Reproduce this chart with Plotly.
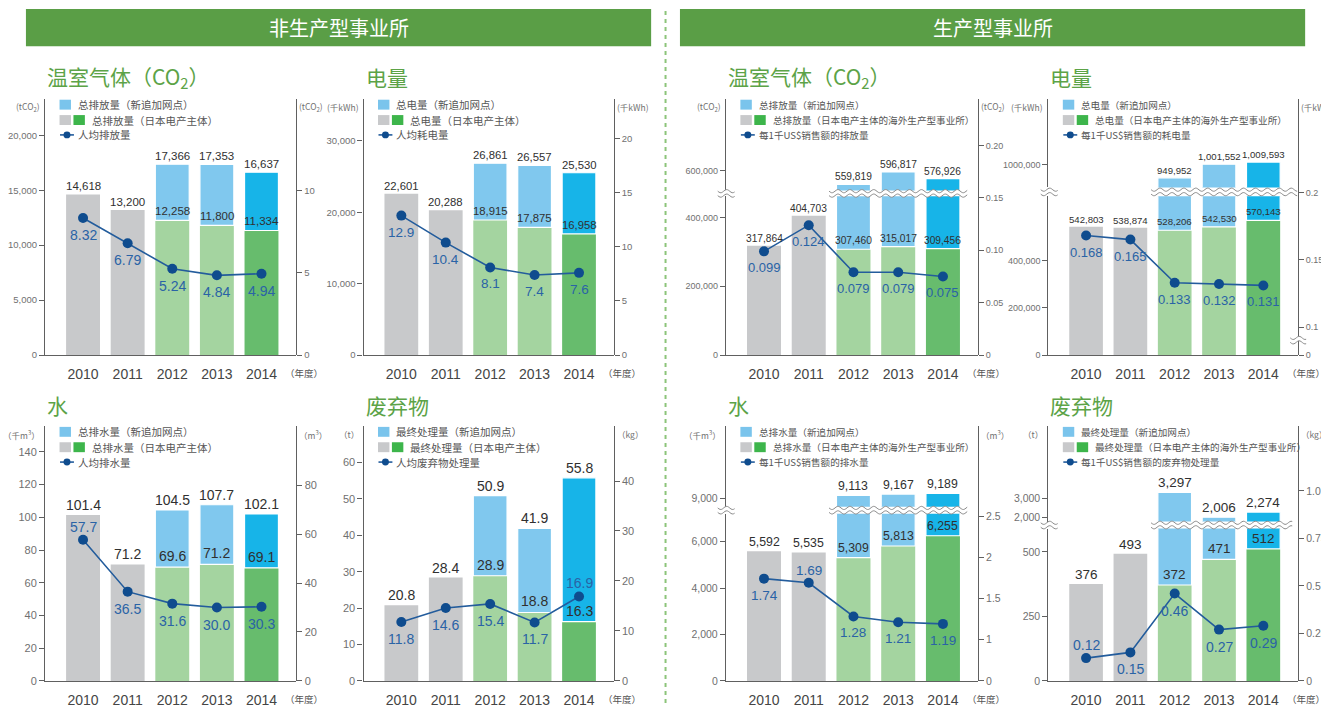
import math
import plotly.graph_objects as go

W, H = 1329, 709
OFF = 8  # default page margin of the html body
FIG_W, FIG_H = W - OFF, H - OFF

# ------------------------------------------------------------------ data
YEARS = ["2010", "2011", "2012", "2013", "2014"]

# 非生产型事业所
np_co2_total = [14618, 13200, 17366, 17353, 16637]
np_co2_base = [14618, 13200, 12258, 11800, 11334]
np_co2_per = [8.32, 6.79, 5.24, 4.84, 4.94]

np_elec_total = [22601, 20288, 26861, 26557, 25530]
np_elec_base = [22601, 20288, 18915, 17875, 16958]
np_elec_per = [12.9, 10.4, 8.1, 7.4, 7.6]

np_water_total = [101.4, 71.2, 104.5, 107.7, 102.1]
np_water_base = [101.4, 71.2, 69.6, 71.2, 69.1]
np_water_per = [57.7, 36.5, 31.6, 30.0, 30.3]

np_waste_total = [20.8, 28.4, 50.9, 41.9, 55.8]
np_waste_base = [20.8, 28.4, 28.9, 18.8, 16.3]
np_waste_per = [11.8, 14.6, 15.4, 11.7, 16.9]

# 生产型事业所
p_co2_total = [317864, 404703, 559819, 596817, 576926]
p_co2_base = [317864, 404703, 307460, 315017, 309456]
p_co2_per = [0.099, 0.124, 0.079, 0.079, 0.075]

p_elec_total = [542803, 538874, 949952, 1001552, 1009593]
p_elec_base = [542803, 538874, 528206, 542530, 570143]
p_elec_per = [0.168, 0.165, 0.133, 0.132, 0.131]

p_water_total = [5592, 5535, 9113, 9167, 9189]
p_water_base = [5592, 5535, 5309, 5813, 6255]
p_water_per = [1.74, 1.69, 1.28, 1.21, 1.19]

p_waste_total = [376, 493, 3297, 2006, 2274]
p_waste_base = [376, 493, 372, 471, 512]
p_waste_per = [0.12, 0.15, 0.46, 0.27, 0.29]

# tick values / labels
np_co2_lt = [0, 5000, 10000, 15000, 20000]
np_co2_lt_txt = ["0", "5,000", "10,000", "15,000", "20,000"]
np_co2_rt = [0, 5, 10]
np_elec_lt = [0, 10000, 20000, 30000]
np_elec_lt_txt = ["0", "10,000", "20,000", "30,000"]
np_elec_rt = [0, 5, 10, 15, 20]
np_water_lt = [0, 20, 40, 60, 80, 100, 120, 140]
np_water_rt = [0, 20, 40, 60, 80]
np_waste_lt = [0, 10, 20, 30, 40, 50, 60]
np_waste_rt = [0, 10, 20, 30, 40]

p_co2_lt = [0, 200000, 400000]
p_co2_lt_txt = ["0", "200,000", "400,000"]
p_co2_ut = [600000]
p_co2_ut_txt = ["600,000"]
p_co2_rt = [0, 0.05, 0.10, 0.15, 0.20]
p_co2_rt_txt = ["0", "0.05", "0.10", "0.15", "0.20"]

p_elec_lt = [0, 200000, 400000]
p_elec_lt_txt = ["0", "200,000", "400,000"]
p_elec_ut = [1000000]
p_elec_ut_txt = ["1000,000"]
p_elec_rt = [0.1, 0.15, 0.2]
p_elec_rt_txt = ["0.1", "0.15", "0.2"]

p_water_lt = [0, 2000, 4000, 6000]
p_water_lt_txt = ["0", "2,000", "4,000", "6,000"]
p_water_ut = [9000]
p_water_ut_txt = ["9,000"]
p_water_rt = [1, 1.5, 2, 2.5]
p_water_rt_txt = ["1", "1.5", "2", "2.5"]

p_waste_lt = [0, 250, 500]
p_waste_lt_txt = ["0", "250", "500"]
p_waste_ut = [2000, 3000]
p_waste_ut_txt = ["2,000", "3,000"]
p_waste_rt = [0, 0.25, 0.5, 0.75, 1.0]
p_waste_rt_txt = ["0", "0.25", "0.5", "0.75", "1.0"]

# ------------------------------------------------------------------ style
GRAY = "#c8c9cb"
LGREEN = "#a4d4a0"
GREEN = "#67bc6d"
LBLUE = "#80c8ee"
BLUE = "#17b4e8"
LEG_GREEN = "#3db54b"
LEG_BLUE = "#7ac4ec"
LINEC = "#235c9c"
MARKC = "#0f4c8e"
LBL_BLUE = "#2a63a6"
AXC = "#606060"
TICKC = "#707070"
HEAD = "#5a9e46"
TGREEN = "#5ca347"
BASE_COLORS = [GRAY, GRAY, LGREEN, LGREEN, GREEN]
TOP_COLORS = [LBLUE, LBLUE, LBLUE, LBLUE, BLUE]

NUMF = "Liberation Sans, Arial, sans-serif"
CJKF = "Noto Sans CJK SC, sans-serif"

XRANGE = [-0.85, 4.78]
BARW = 0.76


def fx(px):
    return (px - OFF) / FIG_W


def fy(py):
    return 1 - (py - OFF) / FIG_H


def fmt_list(vals):
    return [str(v) for v in vals]


NP_LEG = "（日本电产主体）"
P_LEG = "（日本电产主体的海外生产型事业所）"

panels = [
    dict(title="温室气体（CO<sub>2</sub>）", xL=37.3, xR=290, yB=358, yT=100,
         total=np_co2_total, base=np_co2_base, per=np_co2_per,
         low=dict(range=[0, 23285], vals=np_co2_lt, text=np_co2_lt_txt),
         right=dict(range=[0, 15.54], vals=np_co2_rt, text=fmt_list(np_co2_rt)),
         tfmt="{:,.0f}", pfmt="{:.2f}", tsize=11.5, psize=14, ticksize=9.5,
         pos="bbbbb", unitL="(tCO<sub>2</sub>)", unitR="(tCO<sub>2</sub>)",
         legend=["总排放量（新追加网点）", "总排放量" + NP_LEG, "人均排放量"], lfs=10.5),
    dict(title="电量", xL=357.7, xR=609.3, yB=358, yT=100,
         total=np_elec_total, base=np_elec_base, per=np_elec_per,
         low=dict(range=[0, 35833], vals=np_elec_lt, text=np_elec_lt_txt),
         right=dict(range=[0, 23.67], vals=np_elec_rt, text=fmt_list(np_elec_rt)),
         tfmt="{:,.0f}", pfmt="{:.1f}", tsize=11.3, psize=13.5, ticksize=9.5,
         pos="bbbbb", unitL="(千kWh)", unitR="(千kWh)",
         legend=["总电量（新追加网点）", "总电量" + NP_LEG, "人均耗电量"], lfs=10.5),
    dict(title="水", xL=37.3, xR=290, yB=686.7, yT=430,
         total=np_water_total, base=np_water_base, per=np_water_per,
         low=dict(range=[0, 155.6], vals=np_water_lt, text=fmt_list(np_water_lt)),
         right=dict(range=[0, 104.1], vals=np_water_rt, text=fmt_list(np_water_rt)),
         tfmt="{:.1f}", pfmt="{:.1f}", tsize=14, psize=14, ticksize=11,
         pos="abbbb", unitL="（千m<sup>3</sup>）", unitR="（m<sup>3</sup>）",
         legend=["总排水量（新追加网点）", "总排水量" + NP_LEG, "人均排水量"], lfs=10.5),
    dict(title="废弃物", xL=357.7, xR=609.3, yB=686.7, yT=430,
         total=np_waste_total, base=np_waste_base, per=np_waste_per,
         low=dict(range=[0, 69.95], vals=np_waste_lt, text=fmt_list(np_waste_lt)),
         right=dict(range=[0, 50.93], vals=np_waste_rt, text=fmt_list(np_waste_rt)),
         tfmt="{:.1f}", pfmt="{:.1f}", tsize=14, psize=14, ticksize=11,
         pos="bbbba", unitL="（t）", unitR="（kg）",
         legend=["最终处理量（新追加网点）", "最终处理量" + NP_LEG, "人均废弃物处理量"], lfs=10.5),
    dict(title="温室气体（CO<sub>2</sub>）", xL=722.3, xR=975.7, yB=358, yT=100,
         total=p_co2_total, base=p_co2_base, per=p_co2_per,
         low=dict(range=[0, 461100], vals=p_co2_lt, text=p_co2_lt_txt, top=198),
         up=dict(range=[542220, 812060], vals=p_co2_ut, text=p_co2_ut_txt, bot=192),
         right=dict(range=[0, 0.2443], vals=p_co2_rt, text=p_co2_rt_txt),
         tfmt="{:,.0f}", pfmt="{:.3f}", tsize=10.2, psize=13, ticksize=9,
         pos="bbbbb", unitL="(tCO<sub>2</sub>)", unitR="(tCO<sub>2</sub>)",
         waves=[(714, 731, 195), (826, 965, 195)],
         legend=["总排放量（新追加网点）", "总排放量" + P_LEG, "每1千US$销售额的排放量"], lfs=9.6),
    dict(title="电量", xL=1046.7, xR=1297.7, yB=358, yT=100,
         total=p_elec_total, base=p_elec_base, per=p_elec_per,
         low=dict(range=[0, 671600], vals=p_elec_lt, text=p_elec_lt_txt, top=198),
         up=dict(range=[913520, 1248160], vals=p_elec_ut, text=p_elec_ut_txt, bot=189),
         right=dict(range=[0.0794, 0.2691], vals=p_elec_rt, text=p_elec_rt_txt, zero=True),
         tfmt="{:,.0f}", pfmt="{:.3f}", tsize=9.6, psize=13, ticksize=9,
         pos="bbbbb", unitL="(千kWh)", unitR="(千kWh)",
         waves=[(1039, 1056, 193.5), (1150, 1297, 193.5), (1290, 1306, 343)],
         legend=["总电量（新追加网点）", "总电量" + P_LEG, "每1千US$销售额的耗电量"], lfs=9.6),
    dict(title="水", xL=722.3, xR=975.7, yB=686.7, yT=430,
         total=p_water_total, base=p_water_base, per=p_water_per,
         low=dict(range=[0, 7209], vals=p_water_lt, text=p_water_lt_txt, top=518),
         up=dict(range=[8643, 11964], vals=p_water_ut, text=p_water_ut_txt, bot=511),
         right=dict(range=[0.4976, 3.59], vals=p_water_rt, text=p_water_rt_txt, zero=True),
         tfmt="{:,.0f}", pfmt="{:.2f}", tsize=12.3, psize=13.5, ticksize=10.5,
         pos="babbb", unitL="（千m<sup>3</sup>）", unitR="（m<sup>3</sup>）",
         waves=[(714, 731, 514.5), (826, 965, 514.5)],
         legend=["总排水量（新追加网点）", "总排水量" + P_LEG, "每1千US$销售额的排水量"], lfs=9.6),
    dict(title="废弃物", xL=1046.7, xR=1297.7, yB=686.7, yT=430,
         total=p_waste_total, base=p_waste_base, per=p_waste_per,
         low=dict(range=[0, 591], vals=p_waste_lt, text=p_waste_lt_txt, top=533),
         up=dict(range=[1778, 6727], vals=p_waste_ut, text=p_waste_ut_txt, bot=526),
         right=dict(range=[0, 1.340], vals=p_waste_rt, text=p_waste_rt_txt),
         tfmt="{:,.0f}", pfmt="{:.2f}", tsize=13.5, psize=14, ticksize=10.5,
         pos="abbbb", unitL="（t）", unitR="（kg）",
         waves=[(1039, 1056, 529.5), (1150, 1292, 529.5)],
         legend=["最终处理量（新追加网点）", "最终处理量" + P_LEG, "每1千US$销售额的废弃物处理量"], lfs=9.6),
]

# ------------------------------------------------------------------ build
traces = []
shapes = []
annotations = []
layout = dict(width=FIG_W, height=FIG_H, margin=dict(l=0, r=0, t=0, b=0),
              paper_bgcolor="white", plot_bgcolor="rgba(0,0,0,0)",
              barmode="overlay", showlegend=False, hovermode=False)

counter = {"x": 0, "y": 0}


def new_axis(kind):
    counter[kind] += 1
    n = counter[kind]
    suffix = "" if n == 1 else str(n)
    return kind + "axis" + suffix, kind + suffix


def yaxis_dict(dom, cfg, xref, tsz, side="left"):
    vals = list(cfg["vals"])
    text = list(cfg["text"])
    if cfg.get("zero"):
        vals = [cfg["range"][0]] + vals
        text = ["0"] + text
    return dict(domain=dom, range=cfg["range"], anchor=xref, side=side,
                tickmode="array", tickvals=vals, ticktext=text,
                showline=True, linecolor=AXC, linewidth=1.3,
                ticks="outside", ticklen=5, tickcolor=AXC, tickwidth=1,
                tickfont=dict(size=tsz, color=TICKC, family=NUMF),
                showgrid=False, zeroline=False, fixedrange=True)


def wave_shapes(x0, x1, yc, thick=4.5, amp=1.6, period=12.0):
    n = max(10, int((x1 - x0) / 1.2))
    xs = [x0 + (x1 - x0) * k / n for k in range(n + 1)]
    top = [(x, yc - thick / 2 + amp * math.sin(2 * math.pi * (x - x0) / period)) for x in xs]
    bot = [(x, yc + thick / 2 + amp * math.sin(2 * math.pi * (x - x0) / period)) for x in xs]

    def path(pts):
        return "M " + " L ".join(f"{fx(x):.5f},{fy(y):.5f}" for x, y in pts)

    out = [dict(type="path", path=path(top + bot[::-1]) + " Z", xref="paper", yref="paper",
                fillcolor="white", line=dict(width=0), layer="above")]
    for pts in (top, bot):
        out.append(dict(type="path", path=path(pts), xref="paper", yref="paper",
                        line=dict(color="#8a8a8a", width=1), layer="above"))
    return out


def text_ann(x, y, text, size, color="#555", family=CJKF, xanchor="left", yanchor="middle"):
    annotations.append(dict(x=fx(x), y=fy(y), xref="paper", yref="paper", text=text,
                            showarrow=False, xanchor=xanchor, yanchor=yanchor,
                            font=dict(size=size, color=color, family=family)))


def rect(x0, y0, x1, y1, color):
    shapes.append(dict(type="rect", xref="paper", yref="paper", x0=fx(x0), x1=fx(x1),
                       y0=fy(y1), y1=fy(y0), fillcolor=color, line=dict(width=0)))


xs_idx = list(range(len(YEARS)))

for p in panels:
    xkey, xref = new_axis("x")
    lkey, lref = new_axis("y")
    has_up = "up" in p
    if has_up:
        ukey, uref = new_axis("y")
    rkey, rref = new_axis("y")

    xL, xR, yB, yT = p["xL"], p["xR"], p["yB"], p["yT"]
    layout[xkey] = dict(domain=[fx(xL), fx(xR)], range=XRANGE, anchor=lref,
                        tickmode="array", tickvals=xs_idx, ticktext=YEARS,
                        showline=True, linecolor=AXC, linewidth=1.3, ticks="",
                        ticklabelstandoff=6,
                        tickfont=dict(size=14, color="#454545", family=NUMF),
                        showgrid=False, zeroline=False, fixedrange=True)
    low_top = p["low"].get("top", yT)
    layout[lkey] = yaxis_dict([fy(yB), fy(low_top)], p["low"], xref, p["ticksize"])
    if has_up:
        layout[ukey] = yaxis_dict([fy(p["up"]["bot"]), fy(yT)], p["up"], xref, p["ticksize"])
    layout[rkey] = yaxis_dict([fy(yB), fy(yT)], p["right"], xref, p["ticksize"], side="right")

    total, base, per = p["total"], p["base"], p["per"]
    extra = [t - b for t, b in zip(total, base)]
    targets = [lref] + ([uref] if has_up else [])
    for yr in targets:
        traces.append(go.Bar(x=xs_idx, y=base, width=BARW, marker=dict(color=BASE_COLORS, line=dict(width=0)),
                             xaxis=xref, yaxis=yr, hoverinfo="skip"))
        traces.append(go.Bar(x=xs_idx[2:], y=extra[2:], base=base[2:], width=BARW,
                             marker=dict(color=TOP_COLORS[2:], line=dict(color="white", width=1.2)),
                             xaxis=xref, yaxis=yr, hoverinfo="skip"))
    traces.append(go.Scatter(x=xs_idx, y=per, mode="lines+markers",
                             line=dict(color=LINEC, width=1.6),
                             marker=dict(size=10, color=MARKC),
                             xaxis=xref, yaxis=rref, hoverinfo="skip"))

    # value labels
    low_max = p["low"]["range"][1]
    for i in xs_idx:
        yr = uref if (has_up and total[i] > low_max) else lref
        annotations.append(dict(x=i, y=total[i], xref=xref, yref=yr, text=p["tfmt"].format(total[i]),
                                showarrow=False, yanchor="bottom", yshift=0,
                                font=dict(size=p["tsize"], color="#303030", family=NUMF)))
        if total[i] != base[i]:
            annotations.append(dict(x=i, y=base[i], xref=xref, yref=lref, text=p["tfmt"].format(base[i]),
                                    showarrow=False, yanchor="bottom", yshift=1,
                                    font=dict(size=p["tsize"], color="#303030", family=NUMF)))
        above = p["pos"][i] == "a"
        annotations.append(dict(x=i, y=per[i], xref=xref, yref=rref, text=p["pfmt"].format(per[i]),
                                showarrow=False, yanchor="bottom" if above else "top",
                                yshift=3 if above else -7,
                                font=dict(size=p["psize"], color=LBL_BLUE, family=NUMF)))

    # breaks
    for (a, b, c) in p.get("waves", []):
        shapes.extend(wave_shapes(a, b, c))

    # section title
    text_ann(xL, yT - 22, p["title"], 21, color=TGREEN)

    # units
    text_ann(xL - 3, yT + 8, p["unitL"], 8.5, color="#707070", xanchor="right")
    text_ann(xR + 1, yT + 8, p["unitR"], 8.5, color="#707070", xanchor="left")
    text_ann(xR - 13, yB + 18, "（年度）", 9.5, color="#555")

    # legend
    lfs = p["lfs"]
    r1, r2, r3 = yT + 5.5, yT + 21, yT + 36
    rect(xL + 14.5, r1 - 5, xL + 26, r1 + 5, LEG_BLUE)
    text_ann(xL + 31, r1, p["legend"][0], lfs)
    rect(xL + 14.5, r2 - 5, xL + 26, r2 + 5, GRAY)
    rect(xL + 28.5, r2 - 5, xL + 40, r2 + 5, LEG_GREEN)
    text_ann(xL + 45, r2, p["legend"][1], lfs)
    shapes.append(dict(type="line", xref="paper", yref="paper", x0=fx(xL + 15), x1=fx(xL + 29),
                       y0=fy(r3), y1=fy(r3), line=dict(color=LINEC, width=1.6)))
    shapes.append(dict(type="circle", xref="paper", yref="paper", x0=fx(xL + 18.5), x1=fx(xL + 25.5),
                       y0=fy(r3 + 3.5), y1=fy(r3 - 3.5), fillcolor=MARKC, line=dict(width=0)))
    text_ann(xL + 31, r3, p["legend"][2], lfs)

# header banners
rect(18, 9, 647, 46.5, HEAD)
rect(676, 9, 1305, 46.5, HEAD)
text_ann(332.5, 27.5, "非生产型事业所", 20, color="white", xanchor="center")
text_ann(990.5, 27.5, "生产型事业所", 20, color="white", xanchor="center")
# divider
shapes.append(dict(type="line", xref="paper", yref="paper", x0=fx(661.5), x1=fx(661.5),
                   y0=0, y1=1, line=dict(color="#8cc47a", width=2, dash="4px,4px")))

layout["shapes"] = shapes
layout["annotations"] = annotations

fig = go.Figure(data=traces, layout=layout)
fig.write_html("out.html", config=dict(displayModeBar=False))
